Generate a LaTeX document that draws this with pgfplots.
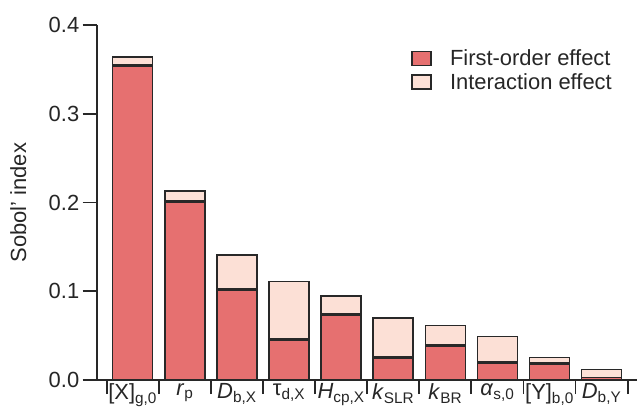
\documentclass[border=0pt]{standalone}
\usepackage{fontspec}
\setmainfont{Liberation Sans}
\usepackage{pgfplots}
\pgfplotsset{compat=1.18}
\definecolor{fo}{RGB}{230,112,112}
\definecolor{ia}{RGB}{252,224,214}
\definecolor{edge}{RGB}{40,40,40}
\begin{document}
\begin{tikzpicture}
\begin{axis}[
  name=ax,
  scale only axis,
  width=540bp, height=355bp,
  xmin=-0.69, xmax=9.68,
  ymin=0, ymax=0.4,
  axis x line*=bottom, axis y line*=left,
  axis line style={line width=1.8bp, edge},
  every tick/.style={line width=1.8bp, edge},
  tick align=outside,
  major tick length=14bp,
  xtick={-0.5,0.5,...,9.5},
  xticklabels={},
  extra x ticks={0,1,2,3,4,5,6,7,8,9},
  extra x tick labels={{[X]\textsubscript{g,0}},{\textit{r}\textsubscript{p}},{\textit{D}\textsubscript{b,X}},{τ\textsubscript{d,X}},{\textit{H}\textsubscript{cp,X}},{\textit{k}\textsubscript{SLR}},{\textit{k}\textsubscript{BR}},{\textit{α}\textsubscript{s,0}},{[Y]\textsubscript{b,0}},{\textit{D}\textsubscript{b,Y}}},
  extra x tick style={major tick length=0bp},
  ytick={0,0.1,0.2,0.3,0.4},
  yticklabel style={/pgf/number format/fixed,/pgf/number format/fixed zerofill,/pgf/number format/precision=1},
  /pgf/number format/assume math mode=true,
  tick label style={font=\fontsize{22}{26}\selectfont, text=black!85},
  ylabel={Sobol' index},
  ylabel style={font=\fontsize{22}{26}\selectfont, at={(axis description cs:-0.145,0.5)}, anchor=center, text=black!85},
  legend style={at={(axis description cs:0.962,0.94)}, anchor=north east, draw=none, fill=none,
    font=\fontsize{22}{26}\selectfont, text=black!85, row sep=3bp,
    nodes={inner sep=1.5bp}},
  legend cell align=left,
  legend image code/.code={\draw[#1, line width=1.5bp] (0bp,-7bp) rectangle (19bp,7bp); \path (36bp,0bp);},
  clip=false,
]
% total (first-order + interaction)
\addplot[ybar, bar shift=0pt, bar width=40bp, fill=ia, draw=edge, line width=1.5bp, forget plot] coordinates {
 (0,0.364) (1,0.213) (2,0.141) (3,0.111) (4,0.095) (5,0.070) (6,0.0616) (7,0.049) (8,0.0256) (9,0.012)};
% first-order
\addplot[ybar, bar shift=0pt, bar width=40bp, fill=fo, draw=edge, line width=1.5bp] coordinates {
 (0,0.354) (1,0.201) (2,0.102) (3,0.046) (4,0.074) (5,0.025) (6,0.039) (7,0.020) (8,0.0188) (9,0.003)};
% seam between first-order and interaction
\addplot[only marks, mark=-, mark size=20bp, mark options={line width=3bp, draw=edge}, forget plot] coordinates {
 (0,0.354) (1,0.201) (2,0.102) (3,0.046) (4,0.074) (5,0.025) (6,0.039) (7,0.020) (8,0.0188)};
\addlegendimage{fill=ia, draw=edge, line width=1.5bp}
\legend{First-order effect, Interaction effect}
\end{axis}
\pgfresetboundingbox
\path ([shift={(-96.7bp,-36bp)}]ax.south west) rectangle ([shift={(1bp,25bp)}]ax.north east);
\end{tikzpicture}
\end{document}
